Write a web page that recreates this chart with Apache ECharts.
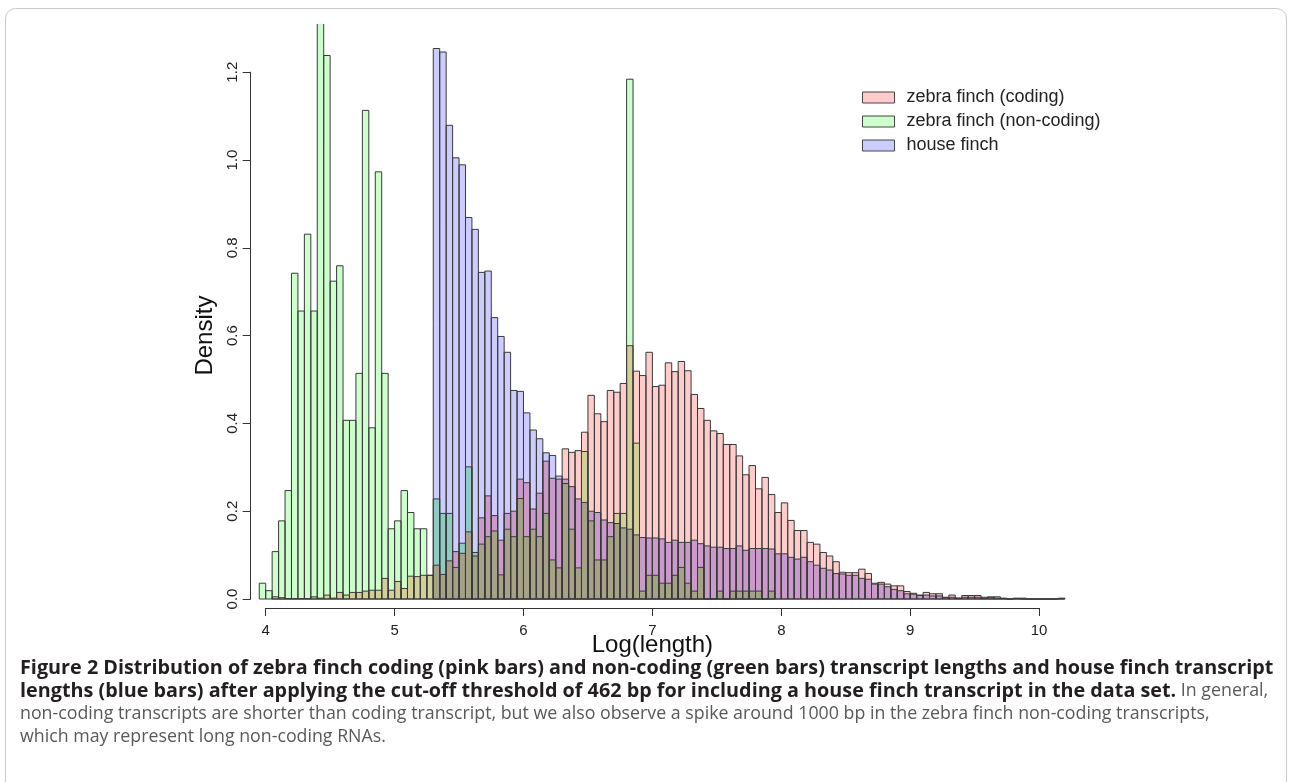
<!DOCTYPE html>
<html>
<head>
<meta charset="utf-8">
<script src="https://cdn.jsdelivr.net/npm/echarts@6/dist/echarts.min.js"></script>
<style>
html,body{margin:0;padding:0;background:#ffffff;}
#chart{width:1292px;height:782px;}
</style>
</head>
<body>
<div id="chart"></div>
<script>
// Histogram breaks: bins of width 0.05 starting at 3.95
const binStart = 3.95;
const binWidth = 0.05;

// zebra finch (coding) densities, one per bin from 3.95
const coding = [
  0, 0, 0.005, 0.003, 0.001, 0.001, 0.001, 0.001, 0.005, 0.002,
  0.009, 0.002, 0.015, 0.009, 0.015, 0.015, 0.018, 0.020, 0.020, 0.047,
  0.020, 0.040, 0.024, 0.052, 0.051, 0.054, 0.054, 0.077, 0.056, 0.087,
  0.108, 0.104, 0.153, 0.098, 0.185, 0.235, 0.190, 0.134, 0.195, 0.200,
  0.273, 0.265, 0.205, 0.241, 0.314, 0.275, 0.273, 0.342, 0.334, 0.338,
  0.380, 0.464, 0.422, 0.404, 0.475, 0.471, 0.491, 0.577, 0.519, 0.509,
  0.562, 0.484, 0.487, 0.538, 0.518, 0.541, 0.520, 0.466, 0.434, 0.407,
  0.383, 0.377, 0.352, 0.352, 0.326, 0.283, 0.304, 0.251, 0.277, 0.238,
  0.197, 0.219, 0.179, 0.156, 0.156, 0.129, 0.125, 0.106, 0.098, 0.085,
  0.061, 0.060, 0.060, 0.068, 0.058, 0.036, 0.038, 0.034, 0.030, 0.030,
  0.017, 0.013, 0.009, 0.015, 0.012, 0.012, 0.004, 0.009, 0.002, 0.008,
  0.008, 0.008, 0.004, 0.005, 0.005, 0.002, 0, 0.002, 0.002, 0,
  0, 0, 0, 0, 0.002
];

// zebra finch (non-coding) densities
const nonCoding = [
  0.036, 0.019, 0.108, 0.178, 0.247, 0.742, 0.656, 0.831, 0.656, 1.42,
  1.238, 0.724, 0.759, 0.407, 0.407, 0.514, 1.113, 0.390, 0.973, 0.514,
  0.160, 0.178, 0.247, 0.197, 0.160, 0.160, 0.054, 0.228, 0.195, 0.195,
  0.072, 0.127, 0.301, 0.106, 0.125, 0.142, 0.155, 0.055, 0.159, 0.142,
  0.229, 0.142, 0.159, 0.142, 0.195, 0.089, 0.071, 0.263, 0.159, 0.071,
  0.336, 0.178, 0.089, 0.089, 0.142, 0.195, 0.195, 1.184, 0.355, 0.018,
  0.054, 0.054, 0.036, 0.036, 0.054, 0.072, 0.036, 0.018, 0.072, 0,
  0, 0.018, 0, 0.018, 0.018, 0.018, 0.018, 0.018, 0, 0.018,
  0, 0, 0, 0, 0, 0, 0, 0, 0, 0,
  0, 0, 0, 0, 0, 0, 0, 0, 0, 0,
  0, 0, 0, 0, 0, 0, 0, 0, 0, 0,
  0, 0, 0, 0, 0, 0, 0, 0, 0, 0,
  0, 0, 0, 0, 0
];

// house finch densities
const houseFinch = [
  0, 0, 0, 0, 0, 0, 0, 0, 0, 0,
  0, 0, 0, 0, 0, 0, 0, 0, 0, 0,
  0, 0, 0, 0, 0, 0, 0, 1.254, 1.246, 1.079,
  1.005, 0.989, 0.869, 0.842, 0.744, 0.747, 0.641, 0.598, 0.562, 0.475,
  0.473, 0.424, 0.385, 0.365, 0.333, 0.327, 0.280, 0.273, 0.256, 0.228,
  0.220, 0.200, 0.197, 0.180, 0.174, 0.172, 0.162, 0.159, 0.146, 0.140,
  0.139, 0.139, 0.137, 0.129, 0.134, 0.129, 0.129, 0.134, 0.126, 0.121,
  0.118, 0.118, 0.115, 0.115, 0.121, 0.111, 0.115, 0.115, 0.115, 0.114,
  0.103, 0.103, 0.095, 0.091, 0.095, 0.085, 0.077, 0.070, 0.066, 0.058,
  0.057, 0.054, 0.054, 0.047, 0.045, 0.034, 0.034, 0.028, 0.022, 0.019,
  0.012, 0.011, 0.008, 0.009, 0.007, 0.007, 0.003, 0.004, 0.002, 0.004,
  0.004, 0.004, 0.002, 0.003, 0.002, 0.001, 0, 0.001, 0, 0,
  0, 0, 0, 0, 0.001
];

const seriesNames = ['zebra finch (coding)', 'zebra finch (non-coding)', 'house finch'];
const xTickValues = [4, 5, 6, 7, 8, 9, 10];
const yTickValues = [0, 0.2, 0.4, 0.6, 0.8, 1.0, 1.2];

const captionLines = [
  [['b', 'Figure 2 Distribution of zebra finch coding (pink bars) and non-coding (green bars) transcript lengths and house finch transcript']],
  [['b', 'lengths (blue bars) after applying the cut-off threshold of 462 bp for including a house finch transcript in the data set.'], ['n', ' In general,']],
  [['n', 'non-coding transcripts are shorter than coding transcript, but we also observe a spike around 1000 bp in the zebra finch non-coding transcripts,']],
  [['n', 'which may represent long non-coding RNAs.']]
];

// ---------- styling ----------
const singleColors = ['#FFCCCC', '#CCFFCC', '#CCCCFF'];
const overlapColors = {
  P: '#FFCCCC', G: '#CCFFCC', B: '#CCCCFF',
  PG: '#D3CF98', PB: '#CA9ACB', GB: '#90CAC2', PGB: '#A6A287'
};
const FONT = "'Liberation Sans', Arial, sans-serif";
const CAPFONT = "'Open Sans', 'Noto Sans', sans-serif";

function edge(i) { return Math.round((binStart + i * binWidth) * 1000) / 1000; }

const segData = coding.map((v, i) => [edge(i), edge(i + 1), coding[i], nonCoding[i], houseFinch[i]]);

function outlineData(vals) {
  let first = -1, last = -1;
  vals.forEach((v, i) => { if (v > 0) { if (first < 0) first = i; last = i; } });
  const out = [];
  for (let i = first; i <= last; i++) out.push([edge(i), edge(i + 1), vals[i]]);
  return out;
}

function renderSegments(params, api) {
  const x0 = api.value(0), x1 = api.value(1);
  const h = [api.value(2), api.value(3), api.value(4)];
  const levels = Array.from(new Set([0].concat(h))).sort((a, b) => a - b);
  const children = [];
  for (let k = 1; k < levels.length; k++) {
    const lo = levels[k - 1], hi = levels[k];
    if (!(hi > lo)) continue;
    let key = '';
    if (h[0] >= hi) key += 'P';
    if (h[1] >= hi) key += 'G';
    if (h[2] >= hi) key += 'B';
    const a = api.coord([x0, hi]);
    const b = api.coord([x1, lo]);
    children.push({
      type: 'rect',
      shape: { x: a[0], y: a[1], width: b[0] - a[0], height: b[1] - a[1] },
      style: { fill: overlapColors[key], stroke: null }
    });
  }
  return { type: 'group', children: children };
}

function renderOutline(params, api) {
  const a = api.coord([api.value(0), api.value(2)]);
  const b = api.coord([api.value(1), 0]);
  return {
    type: 'rect',
    shape: { x: a[0], y: a[1], width: b[0] - a[0], height: b[1] - a[1] },
    style: { fill: null, stroke: '#3a3a3a', lineWidth: 1 }
  };
}

const outlineSeries = [coding, nonCoding, houseFinch].map((vals, s) => ({
  type: 'custom',
  name: seriesNames[s],
  xAxisIndex: 0, yAxisIndex: 0,
  clip: true,
  z: 3,
  silent: true,
  itemStyle: { color: singleColors[s], borderColor: '#444', borderWidth: 1 },
  renderItem: renderOutline,
  data: outlineData(vals)
}));

const chart = echarts.init(document.getElementById('chart'), null, { renderer: 'canvas' });

const captionGraphics = captionLines.map((line, li) => ({
  type: 'text',
  x: 20,
  y: 668 + li * 23,
  silent: true,
  style: {
    text: line.map(p => '{' + p[0] + '|' + p[1] + '}').join(''),
    verticalAlign: 'middle',
    rich: {
      b: { fontFamily: CAPFONT, fontWeight: 'bold', fontSize: 19.8, fill: '#231f20' },
      n: { fontFamily: CAPFONT, fontWeight: 'normal', fontSize: 17.8, fill: '#58595b' }
    }
  }
}));

chart.setOption({
  animation: false,
  backgroundColor: '#ffffff',
  grid: [
    { left: 250.7, right: 220.7, top: 23.9, bottom: 174.2 },   // data area
    { left: 265.7, right: 252.9, top: 23.9, bottom: 174 },     // x axis
    { left: 250.7, right: 220.7, top: 72.2, bottom: 183 }      // y axis
  ],
  xAxis: [
    { gridIndex: 0, type: 'value', min: 3.8836, max: 10.25, show: false },
    {
      gridIndex: 1, type: 'value', min: 4, max: 10, interval: 1,
      axisLine: { show: true, onZero: false, lineStyle: { color: '#333', width: 1 } },
      axisTick: { show: true, length: 8, lineStyle: { color: '#333', width: 1 } },
      axisLabel: { show: true, margin: 15, fontSize: 15, color: '#222', fontFamily: FONT,
        customValues: xTickValues },
      splitLine: { show: false },
      name: 'Log(length)', nameLocation: 'middle', nameGap: 25, nameMoveOverlap: false,
      nameTextStyle: { fontSize: 24, color: '#111', fontFamily: FONT }
    },
    { gridIndex: 2, type: 'value', min: 0, max: 1, show: false }
  ],
  yAxis: [
    { gridIndex: 0, type: 'value', min: -0.02, max: 1.31, show: false },
    { gridIndex: 1, type: 'value', min: 0, max: 1, show: false },
    {
      gridIndex: 2, type: 'value', min: 0, max: 1.2, interval: 0.2,
      axisLine: { show: true, onZero: false, lineStyle: { color: '#333', width: 1 } },
      axisTick: { show: true, length: 8, lineStyle: { color: '#333', width: 1 } },
      axisLabel: { show: true, rotate: 90, margin: 10, fontSize: 15, color: '#222', fontFamily: FONT,
        formatter: v => v.toFixed(1) },
      splitLine: { show: false },
      name: 'Density', nameLocation: 'middle', nameGap: 33, nameRotate: 90, nameMoveOverlap: false,
      nameTextStyle: { fontSize: 24, color: '#111', fontFamily: FONT }
    }
  ],
  legend: {
    show: true,
    data: seriesNames,
    orient: 'vertical',
    left: 862, top: 88.5,
    padding: 0,
    icon: 'rect',
    itemWidth: 32, itemHeight: 11,
    itemGap: 6,
    selectedMode: false,
    itemStyle: { borderColor: '#444', borderWidth: 1 },
    textStyle: { fontSize: 18, lineHeight: 18, color: '#222', fontFamily: FONT, padding: [0, 0, 0, 7] }
  },
  graphic: [
    {
      type: 'rect', silent: true, z: -10,
      shape: { x: 5.5, y: 8.5, width: 1281, height: 820, r: 10 },
      style: { fill: null, stroke: '#c8c8c8', lineWidth: 1 }
    }
  ].concat(captionGraphics),
  series: [
    {
      type: 'custom',
      name: 'overlap',
      xAxisIndex: 0, yAxisIndex: 0,
      clip: true,
      z: 2,
      silent: true,
      renderItem: renderSegments,
      data: segData
    }
  ].concat(outlineSeries)
});
</script>
</body>
</html>
